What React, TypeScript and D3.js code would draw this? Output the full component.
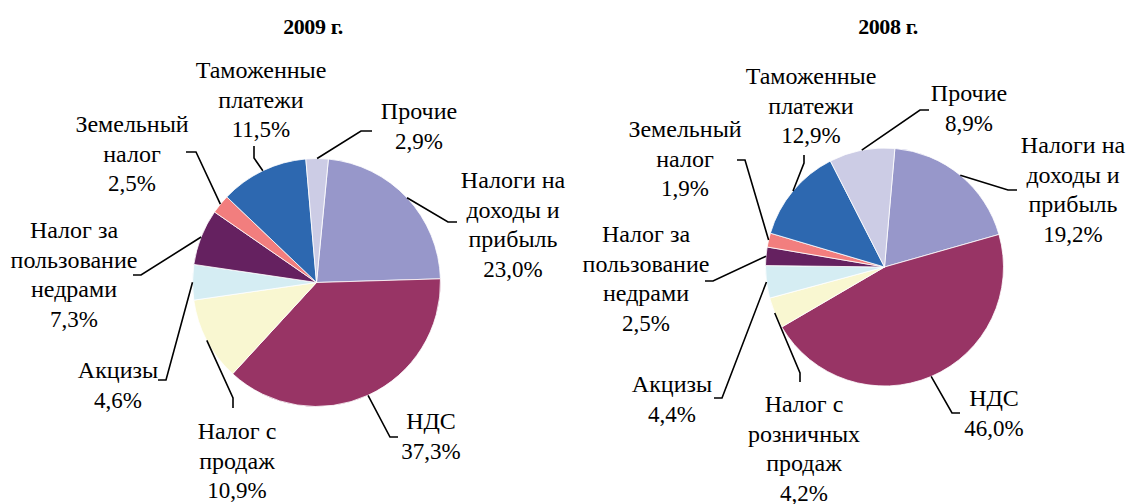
import React from 'react';
import * as d3 from 'd3';

// ---- Data ----
const categories2009 = [
  'Налоги на доходы и прибыль',
  'НДС',
  'Налог с продаж',
  'Акцизы',
  'Налог за пользование недрами',
  'Земельный налог',
  'Таможенные платежи',
  'Прочие',
];
const values2009 = [23.0, 37.3, 10.9, 4.6, 7.3, 2.5, 11.5, 2.9];

const categories2008 = [
  'Налоги на доходы и прибыль',
  'НДС',
  'Налог с розничных продаж',
  'Акцизы',
  'Налог за пользование недрами',
  'Земельный налог',
  'Таможенные платежи',
  'Прочие',
];
const values2008 = [19.2, 46.0, 4.2, 4.4, 2.5, 1.9, 12.9, 8.9];

const labelLines2009 = [
  ['Налоги на', 'доходы и', 'прибыль'],
  ['НДС'],
  ['Налог с', 'продаж'],
  ['Акцизы'],
  ['Налог за', 'пользование', 'недрами'],
  ['Земельный', 'налог'],
  ['Таможенные', 'платежи'],
  ['Прочие'],
];
const labelLines2008 = [
  ['Налоги на', 'доходы и', 'прибыль'],
  ['НДС'],
  ['Налог с', 'розничных', 'продаж'],
  ['Акцизы'],
  ['Налог за', 'пользование', 'недрами'],
  ['Земельный', 'налог'],
  ['Таможенные', 'платежи'],
  ['Прочие'],
];

const titles = ['2009 г.', '2008 г.'];

// ---- Styles / layout ----
const colors = ['#9797CA', '#983465', '#F9F7D1', '#D5EDF3', '#652160', '#F27E7E', '#2D68B0', '#CCCCE5'];

type Place = { cx: number; y0: number; elbow: [number, number]; end: [number, number] };

const layout2009: Place[] = [
  { cx: 513, y0: 188, elbow: [448, 222], end: [457, 222] },
  { cx: 431, y0: 429, elbow: [390, 437], end: [398, 437] },
  { cx: 237, y0: 439, elbow: [233, 398], end: [233, 408] },
  { cx: 118, y0: 378, elbow: [166, 380], end: [158, 380] },
  { cx: 74, y0: 238, elbow: [141, 275], end: [133, 275] },
  { cx: 132, y0: 132, elbow: [196, 152], end: [186, 152] },
  { cx: 261, y0: 78, elbow: [254, 158], end: [254, 146] },
  { cx: 419, y0: 119, elbow: [361, 131], end: [372, 131] },
];
const layout2008: Place[] = [
  { cx: 1073, y0: 153, elbow: [1008, 190], end: [1017, 190] },
  { cx: 994, y0: 406, elbow: [952, 413], end: [960, 413] },
  { cx: 804, y0: 412, elbow: [800, 373], end: [800, 382] },
  { cx: 672, y0: 392, elbow: [722, 398], end: [714, 398] },
  { cx: 646, y0: 242, elbow: [713, 281], end: [705, 281] },
  { cx: 685, y0: 137, elbow: [745, 160], end: [737, 160] },
  { cx: 811, y0: 84, elbow: [804, 163], end: [804, 155] },
  { cx: 969, y0: 101, elbow: [920, 110], end: [929, 110] },
];

const FONT = "'Times New Roman', 'Liberation Serif', serif";
const FS_NAME = 24;
const FS_PCT = 23;
const LH = 29.5;

const fmt = (v: number) => v.toFixed(1).replace('.', ',') + '%';

type PieProps = {
  cx: number;
  cy: number;
  r: number;
  offsetDeg: number;
  values: number[];
  categories: string[];
  lines: string[][];
  places: Place[];
  title: string;
  titleX: number;
};

function Pie({ cx, cy, r, offsetDeg, values, categories, lines, places, title, titleX }: PieProps) {
  const off = (offsetDeg * Math.PI) / 180;
  const arcs = d3
    .pie<number>()
    .sort(null)
    .value((d) => d)
    .startAngle(off)
    .endAngle(off + 2 * Math.PI)(values);
  const arc = d3.arc<d3.PieArcDatum<number>>().innerRadius(0).outerRadius(r);
  return (
    <g>
      <text
        x={titleX}
        y={34}
        textAnchor="middle"
        style={{ fontFamily: FONT, fontWeight: 'bold', fontSize: '22px', letterSpacing: '-0.4px' }}
      >
        {title}
      </text>
      <g transform={`translate(${cx},${cy})`}>
        {arcs.map((a, i) => (
          <path key={categories[i]} d={arc(a) || ''} fill={colors[i]} stroke="#ffffff" strokeWidth={0.8} />
        ))}
      </g>
      {arcs.map((a, i) => {
        const mid = (a.startAngle + a.endAngle) / 2;
        const sx = cx + r * Math.sin(mid);
        const sy = cy - r * Math.cos(mid);
        const p = places[i];
        const ls = [...lines[i], fmt(values[i])];
        return (
          <g key={'l' + i}>
            <polyline
              points={`${sx},${sy} ${p.elbow[0]},${p.elbow[1]} ${p.end[0]},${p.end[1]}`}
              fill="none"
              stroke="#000"
              strokeWidth={1.6}
            />
            <text x={p.cx} y={p.y0} textAnchor="middle" fill="#000" style={{ fontFamily: FONT }}>
              {ls.map((t, j) => (
                <tspan
                  key={j}
                  x={p.cx}
                  y={p.y0 + j * LH}
                  style={{ fontSize: (j === ls.length - 1 ? FS_PCT : FS_NAME) + 'px' }}
                >
                  {t}
                </tspan>
              ))}
            </text>
          </g>
        );
      })}
    </g>
  );
}

export default function App() {
  return (
    <svg
      width={1129}
      height={504}
      style={{ position: 'absolute', left: 0, top: 0, background: '#fff' }}
    >
      <rect width={1129} height={504} fill="#fff" />
      <Pie
        cx={316.5}
        cy={282.5}
        r={124}
        offsetDeg={5.5}
        values={values2009}
        categories={categories2009}
        lines={labelLines2009}
        places={layout2009}
        title={titles[0]}
        titleX={313}
      />
      <Pie
        cx={884.5}
        cy={267}
        r={119}
        offsetDeg={5}
        values={values2008}
        categories={categories2008}
        lines={labelLines2008}
        places={layout2008}
        title={titles[1]}
        titleX={888}
      />
    </svg>
  );
}
